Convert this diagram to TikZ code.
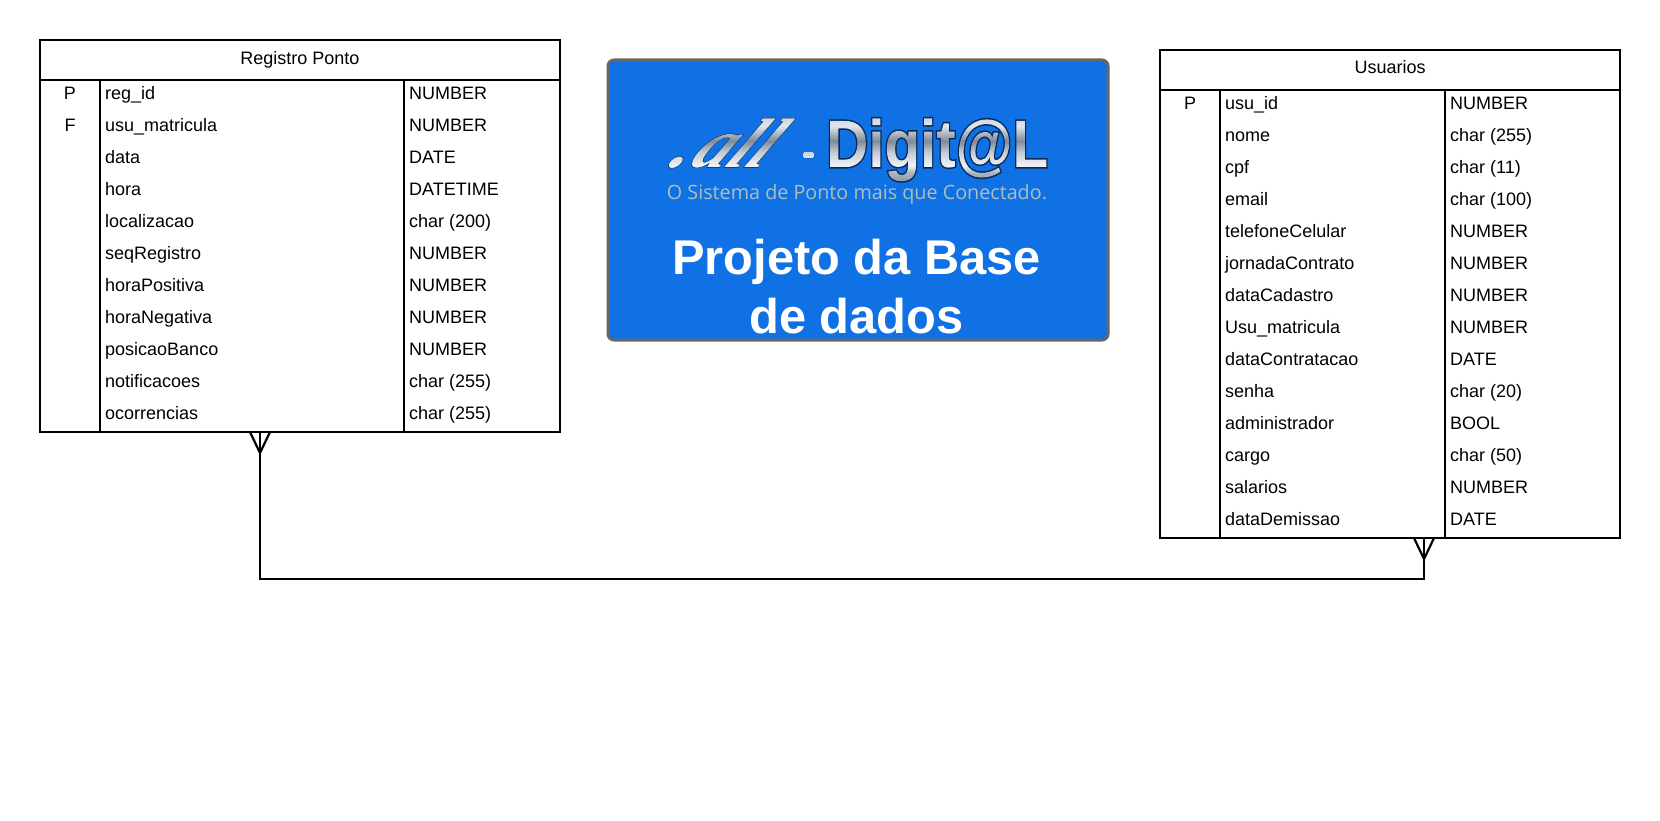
\documentclass[tikz,border=0pt]{standalone}
\usepackage{fontspec}
\setmainfont{Liberation Sans}
\newfontfamily\logoserif{Liberation Serif}
\newfontfamily\logosub{Open Sans}
\usetikzlibrary{calc}
\definecolor{bannerblue}{HTML}{1071E5}
\definecolor{bannerline}{HTML}{666666}
\definecolor{logotagline}{HTML}{AEBFB8}
\definecolor{metala}{HTML}{8895A5}
\definecolor{metalb}{HTML}{AEB8C4}
\definecolor{metalc}{HTML}{F0F3F7}
\definecolor{metald}{HTML}{C4CCD6}
\definecolor{metale}{HTML}{7F8B9A}
\definecolor{metalf}{HTML}{A8B2BE}
\definecolor{metalg}{HTML}{E0E6EC}
\definecolor{metalh}{HTML}{CBD2DB}
\pgfdeclareverticalshading{metal}{100bp}{
  color(0bp)=(metala); color(15bp)=(metalb); color(25bp)=(metalc);
  color(45bp)=(metald); color(62bp)=(metale); color(72bp)=(metalf);
  color(85bp)=(metalg); color(100bp)=(metalh)}
% text drawn as fill+stroke+clip, then the metal shading painted through it
% #1 stroke width, #2 shade width, #3 text
\newcommand{\metaltext}[3]{%
  \special{pdf:code q 0.03 0.16 0.33 RG #1 w 6 Tr}%
  \rlap{#3}%
  \special{pdf:code 0 Tr}%
  \rlap{\raisebox{-15pt}[0pt][0pt]{\resizebox{#2}{66pt}{\pgfuseshading{metal}}}}%
  \special{pdf:code Q}%
  \phantom{#3}}
\tikzset{
  tablebox/.style={draw=black,line width=2.2pt,fill=white,minimum width=#1,inner sep=0,outer sep=0},
  tableline/.style={draw=black,line width=2.2pt},
  celltext/.style={anchor=base west,inner sep=0,font=\fontsize{18}{18}\selectfont},
  keytext/.style={anchor=base,inner sep=0,font=\fontsize{18}{18}\selectfont},
  titletext/.style={anchor=base,inner sep=0,font=\fontsize{18}{18}\selectfont},
  banner/.style={draw=bannerline,line width=3pt,fill=bannerblue,rounded corners=6pt,inner sep=0,outer sep=0},
  relation/.style={draw=black,line width=2.2pt,line join=miter},
  logopart/.style={anchor=base west,inner sep=0,transform shape}
}
\begin{document}
\begin{tikzpicture}[x=1pt,y=-1pt]
\useasboundingbox (0,0) rectangle (1660,821);
% ---------- Registro Ponto
\node[tablebox=520pt,minimum height=392pt,anchor=north west] (regbox) at (40,40) {};
\draw[tableline] (40,80) coordinate (reghl) -- (560,80) coordinate (reghr);
\draw[tableline] (100,80) coordinate (regc1t) -- (100,432) coordinate (regc1b);
\draw[tableline] (404,80) coordinate (regc2t) -- (404,432) coordinate (regc2b);
\node[titletext] (regtitle) at (300,64.5) {Registro Ponto};
\node[keytext] (regkp) at (70,99.9) {P};
\node[keytext] (regkf) at (70,131.9) {F};
\foreach \i/\n/\t in {0/reg\_id/NUMBER,1/usu\_matricula/NUMBER,2/data/DATE,3/hora/DATETIME,4/localizacao/char (200),5/seqRegistro/NUMBER,6/horaPositiva/NUMBER,7/horaNegativa/NUMBER,8/posicaoBanco/NUMBER,9/notificacoes/char (255),10/ocorrencias/char (255)}{
  \node[celltext] (regn\i) at (105,99.9+32*\i) {\n};
  \node[celltext] (regt\i) at (409,99.9+32*\i) {\t};
}
% ---------- Usuarios
\node[tablebox=460pt,minimum height=488pt,anchor=north west] (usubox) at (1160,50) {};
\draw[tableline] (1160,90) coordinate (usuhl) -- (1620,90) coordinate (usuhr);
\draw[tableline] (1220,90) coordinate (usuc1t) -- (1220,538) coordinate (usuc1b);
\draw[tableline] (1445,90) coordinate (usuc2t) -- (1445,538) coordinate (usuc2b);
\node[titletext] (usutitle) at (1390,74) {Usuarios};
\node[keytext] (usukp) at (1190,109.9) {P};
\foreach \i/\n/\t in {0/usu\_id/NUMBER,1/nome/char (255),2/cpf/char (11),3/email/char (100),4/telefoneCelular/NUMBER,5/jornadaContrato/NUMBER,6/dataCadastro/NUMBER,7/Usu\_matricula/NUMBER,8/dataContratacao/DATE,9/senha/char (20),10/administrador/BOOL,11/cargo/char (50),12/salarios/NUMBER,13/dataDemissao/DATE}{
  \node[celltext] (usun\i) at (1225,109.9+32*\i) {\n};
  \node[celltext] (usut\i) at (1450,109.9+32*\i) {\t};
}
% ---------- Relation
\coordinate (regend) at (260,432);
\coordinate (usuend) at (1424,538);
\coordinate (corner1) at (260,579);
\coordinate (corner2) at (1424,579);
\draw[relation] (regend) -- (corner1) -- (corner2) -- (usuend);
\draw[relation] ($(regend)+(-10,0)$) -- ($(regend)+(0,21)$) -- ($(regend)+(10,0)$);
\draw[relation] ($(usuend)+(-10,0)$) -- ($(usuend)+(0,21)$) -- ($(usuend)+(10,0)$);
% ---------- Banner
\node[banner,minimum width=500pt,minimum height=280pt,anchor=north west] (bannerbox) at (608,60) {};
\node[logopart,xslant=0.68,xscale=1.02] (logoall) at (666,167)
  {\logoserif\fontsize{70}{70}\selectfont\bfseries\itshape\metaltext{1}{120pt}{.\kern3pt all}};
\node[logopart] (logodash) at (802,165) {\fontsize{38}{38}\selectfont\bfseries\metaltext{1.5}{20pt}{-}};
\node[logopart,xscale=0.87] (logodigit) at (826,167)
  {\fontsize{67}{67}\selectfont\bfseries\metaltext{3}{270pt}{Digit@L}};
\node[anchor=base,inner sep=0,text=logotagline] (tagline) at (857,200)
  {\resizebox{380pt}{!}{\logosub O Sistema de Ponto mais que Conectado.}};
\node[align=center,inner sep=0,text=white,font=\fontsize{48.8}{59}\selectfont\bfseries] (bannertitle) at (856.5,286.5)
  {Projeto da Base\\de dados};
\end{tikzpicture}
\end{document}
